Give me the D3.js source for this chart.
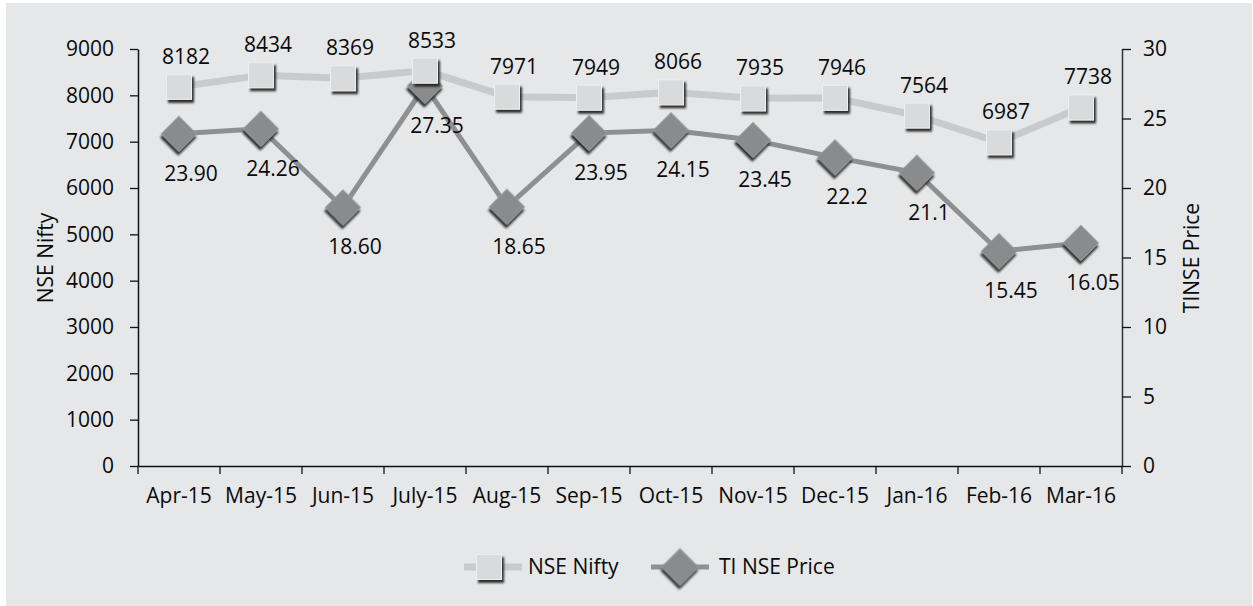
<!DOCTYPE html>
<html>
<head>
<meta charset="utf-8">
<script src="https://cdn.jsdelivr.net/npm/d3@7"></script>
<style>
  body { margin: 0; background: #fff; }
  svg text { font-family: "Open Sans", sans-serif; fill: #0a0a0a; }
</style>
</head>
<body>
<div id="chart"></div>
<script>
const months = ['Apr-15', 'May-15', 'Jun-15', 'July-15', 'Aug-15', 'Sep-15', 'Oct-15', 'Nov-15', 'Dec-15', 'Jan-16', 'Feb-16', 'Mar-16'];
const nifty = [8182, 8434, 8369, 8533, 7971, 7949, 8066, 7935, 7946, 7564, 6987, 7738];
const tiPrice = [23.90, 24.26, 18.60, 27.35, 18.65, 23.95, 24.15, 23.45, 22.2, 21.1, 15.45, 16.05];
const tiLabels = ['23.90', '24.26', '18.60', '27.35', '18.65', '23.95', '24.15', '23.45', '22.2', '21.1', '15.45', '16.05'];
const leftTicks = [0, 1000, 2000, 3000, 4000, 5000, 6000, 7000, 8000, 9000];
const rightTicks = [0, 5, 10, 15, 20, 25, 30];

const width = 1253, height = 606;
const fs = 21;

const svg = d3.select('#chart').append('svg').attr('width', width).attr('height', height);

const defs = svg.append('defs');
const f = defs.append('filter').attr('id', 'shadow').attr('x', '-30%').attr('y', '-30%').attr('width', '170%').attr('height', '170%');
f.append('feDropShadow').attr('dx', 2).attr('dy', 3).attr('stdDeviation', 0.9).attr('flood-color', '#222').attr('flood-opacity', 0.95);

// panel background
svg.append('rect').attr('x', 6).attr('y', 3).attr('width', 1246).attr('height', 603).attr('fill', '#e6e7e8');

const x = d3.scaleBand().domain(months).range([138, 1122]);
const yL = d3.scaleLinear().domain([0, 9000]).range([466, 49]);
const yR = d3.scaleLinear().domain([0, 30]).range([466, 49]);
const cx = (d) => x(d) + x.bandwidth() / 2;

// axes
const gL = svg.append('g').attr('transform', 'translate(138,0)')
  .call(d3.axisLeft(yL).tickValues(leftTicks).tickFormat(d3.format('d')).tickSize(8).tickSizeOuter(0).tickPadding(16));
const gR = svg.append('g').attr('transform', 'translate(1122,0)')
  .call(d3.axisRight(yR).tickValues(rightTicks).tickFormat(d3.format('d')).tickSize(9).tickSizeOuter(0).tickPadding(12));
const gX = svg.append('g').attr('transform', 'translate(0,466)')
  .call(d3.axisBottom(x).tickSize(0).tickSizeOuter(0).tickPadding(22));

// x ticks at band boundaries
const bounds = months.map((m) => x(m)).concat([1122]);
gX.selectAll('.bnd').data(bounds).enter().append('line')
  .attr('x1', (d) => d).attr('x2', (d) => d).attr('y1', 0).attr('y2', 8)
  .attr('stroke', '#111').attr('stroke-width', 1.3);

[gL, gR, gX].forEach((g) => {
  g.selectAll('path.domain').attr('stroke', '#111').attr('stroke-width', 1.5);
  g.selectAll('.tick line').attr('stroke', '#111').attr('stroke-width', 1.3);
  g.selectAll('text').style('font-size', fs + 'px').style('font-family', '"Open Sans", sans-serif').attr('fill', '#0a0a0a');
});
gR.select('path.domain').attr('stroke', '#333');

// axis titles
svg.append('text').attr('transform', 'translate(53,258) rotate(-90)')
  .attr('text-anchor', 'middle').style('font-size', fs + 'px').text('NSE Nifty');
svg.append('text').attr('transform', 'translate(1199,258) rotate(-90)')
  .attr('text-anchor', 'middle').style('font-size', fs + 'px').text('TINSE Price');

// TI NSE Price series (under)
const tiData = months.map((m, i) => ({ m, v: tiPrice[i], lab: tiLabels[i] }));
const niftyData = months.map((m, i) => ({ m, v: nifty[i] }));

svg.append('path').datum(tiData)
  .attr('d', d3.line().x((d) => cx(d.m)).y((d) => yR(d.v)))
  .attr('fill', 'none').attr('stroke', '#8e8f90').attr('stroke-width', 5);

function diamond(g, px, py, s) {
  g.append('rect').attr('x', px - s / 2).attr('y', py - s / 2).attr('width', s).attr('height', s)
    .attr('transform', `rotate(45,${px},${py})`)
    .attr('fill', '#8a8b8c').attr('stroke', '#9a9b9c').attr('stroke-width', 0.8)
    .attr('filter', 'url(#shadow)');
}
function square(g, px, py, s) {
  g.append('rect').attr('x', px - s / 2).attr('y', py - s / 2).attr('width', s).attr('height', s)
    .attr('fill', '#d9dadb').attr('stroke', '#eeeeee').attr('stroke-width', 1)
    .attr('filter', 'url(#shadow)');
}

const tiMarks = svg.append('g');
tiData.forEach((d) => diamond(tiMarks, cx(d.m), yR(d.v), 25));

// NSE Nifty series
svg.append('path').datum(niftyData)
  .attr('d', d3.line().x((d) => cx(d.m)).y((d) => yL(d.v)))
  .attr('fill', 'none').attr('stroke', '#c9cacb').attr('stroke-width', 7);

const nMarks = svg.append('g');
niftyData.forEach((d) => square(nMarks, cx(d.m), yL(d.v), 25));

// data labels
svg.append('g').selectAll('text').data(niftyData).enter().append('text')
  .attr('x', (d) => cx(d.m) + 7).attr('y', (d) => yL(d.v) - 23)
  .attr('text-anchor', 'middle').style('font-size', fs + 'px').text((d) => d.v);
svg.append('g').selectAll('text').data(tiData).enter().append('text')
  .attr('x', (d) => cx(d.m) + 12).attr('y', (d) => yR(d.v) + 47)
  .attr('text-anchor', 'middle').style('font-size', fs + 'px').text((d) => d.lab);

// legend
const leg = svg.append('g');
leg.append('line').attr('x1', 464).attr('x2', 522).attr('y1', 567).attr('y2', 567)
  .attr('stroke', '#c9cacb').attr('stroke-width', 7);
square(leg, 489, 567, 25);
leg.append('text').attr('x', 528).attr('y', 574).style('font-size', fs + 'px').text('NSE Nifty');
leg.append('line').attr('x1', 651).attr('x2', 709).attr('y1', 567).attr('y2', 567)
  .attr('stroke', '#8e8f90').attr('stroke-width', 5);
diamond(leg, 680, 567, 26);
leg.append('text').attr('x', 719).attr('y', 574).style('font-size', fs + 'px').text('TI NSE Price');
</script>
</body>
</html>
